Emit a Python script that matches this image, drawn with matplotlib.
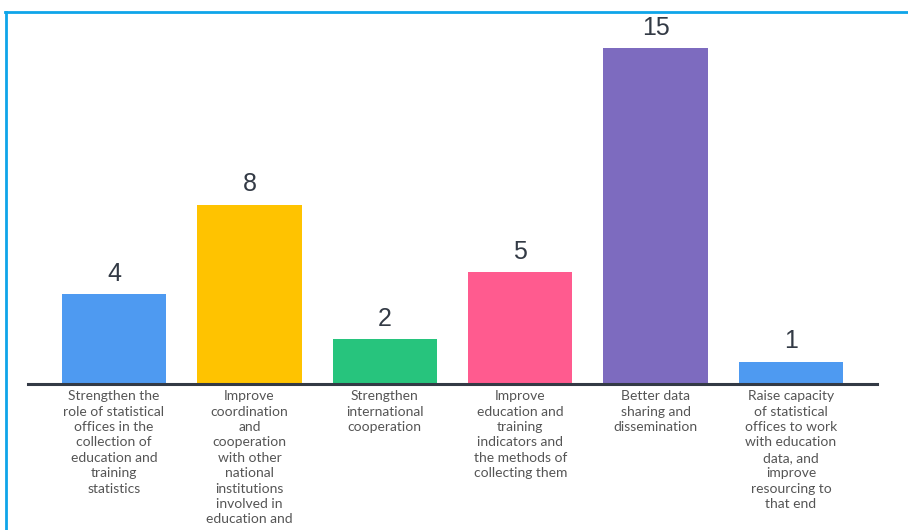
import matplotlib.pyplot as plt
from matplotlib.lines import Line2D

categories = [
    "Strengthen the\nrole of statistical\noffices in the\ncollection of\neducation and\ntraining\nstatistics",
    "Improve\ncoordination\nand\ncooperation\nwith other\nnational\ninstitutions\ninvolved in\neducation and",
    "Strengthen\ninternational\ncooperation",
    "Improve\neducation and\ntraining\nindicators and\nthe methods of\ncollecting them",
    "Better data\nsharing and\ndissemination",
    "Raise capacity\nof statistical\noffices to work\nwith education\ndata, and\nimprove\nresourcing to\nthat end",
]
counts = [4, 8, 2, 5, 15, 1]
colors = ["#4e9af1", "#ffc300", "#27c47d", "#ff5b8f", "#7d6bbf", "#4e9af1"]

fig = plt.figure(figsize=(9.08, 5.30), dpi=100)
ax = fig.add_axes([28 / 908, 1 - 384 / 530, (877 - 28) / 908, (384 - 12) / 530])

x = list(range(len(counts)))
ax.bar(x, counts, width=0.77, color=colors, zorder=2)
ax.set_xlim(-0.635, len(counts) - 1 + 0.635)
ax.set_ylim(0, 372 / 22.4)

for side in ["top", "right", "left"]:
    ax.spines[side].set_visible(False)
ax.spines["bottom"].set_color("#333a45")
ax.spines["bottom"].set_linewidth(2.2)
ax.spines["bottom"].set_zorder(3)
ax.set_yticks([])
ax.set_xticks([])

for i, v in enumerate(counts):
    ax.annotate(str(v), (i, v), xytext=(0, 6), textcoords="offset points",
                ha="center", va="bottom", fontsize=18, color="#333a45",
                family="Liberation Sans")
    ax.annotate(categories[i], (i, 0), xytext=(0, -4.5), textcoords="offset points",
                ha="center", va="top", fontsize=10, color="#555555",
                family="Lato", linespacing=1.34, annotation_clip=False)

# frame lines along the top and left edge
fig.add_artist(Line2D([5 / 908, 1], [1 - 12 / 530, 1 - 12 / 530],
                      color="#0ea5e9", lw=2, transform=fig.transFigure))
fig.add_artist(Line2D([6 / 908, 6 / 908], [0, 1 - 12 / 530],
                      color="#0ea5e9", lw=2, transform=fig.transFigure))

fig.savefig("out.png", dpi=100)
